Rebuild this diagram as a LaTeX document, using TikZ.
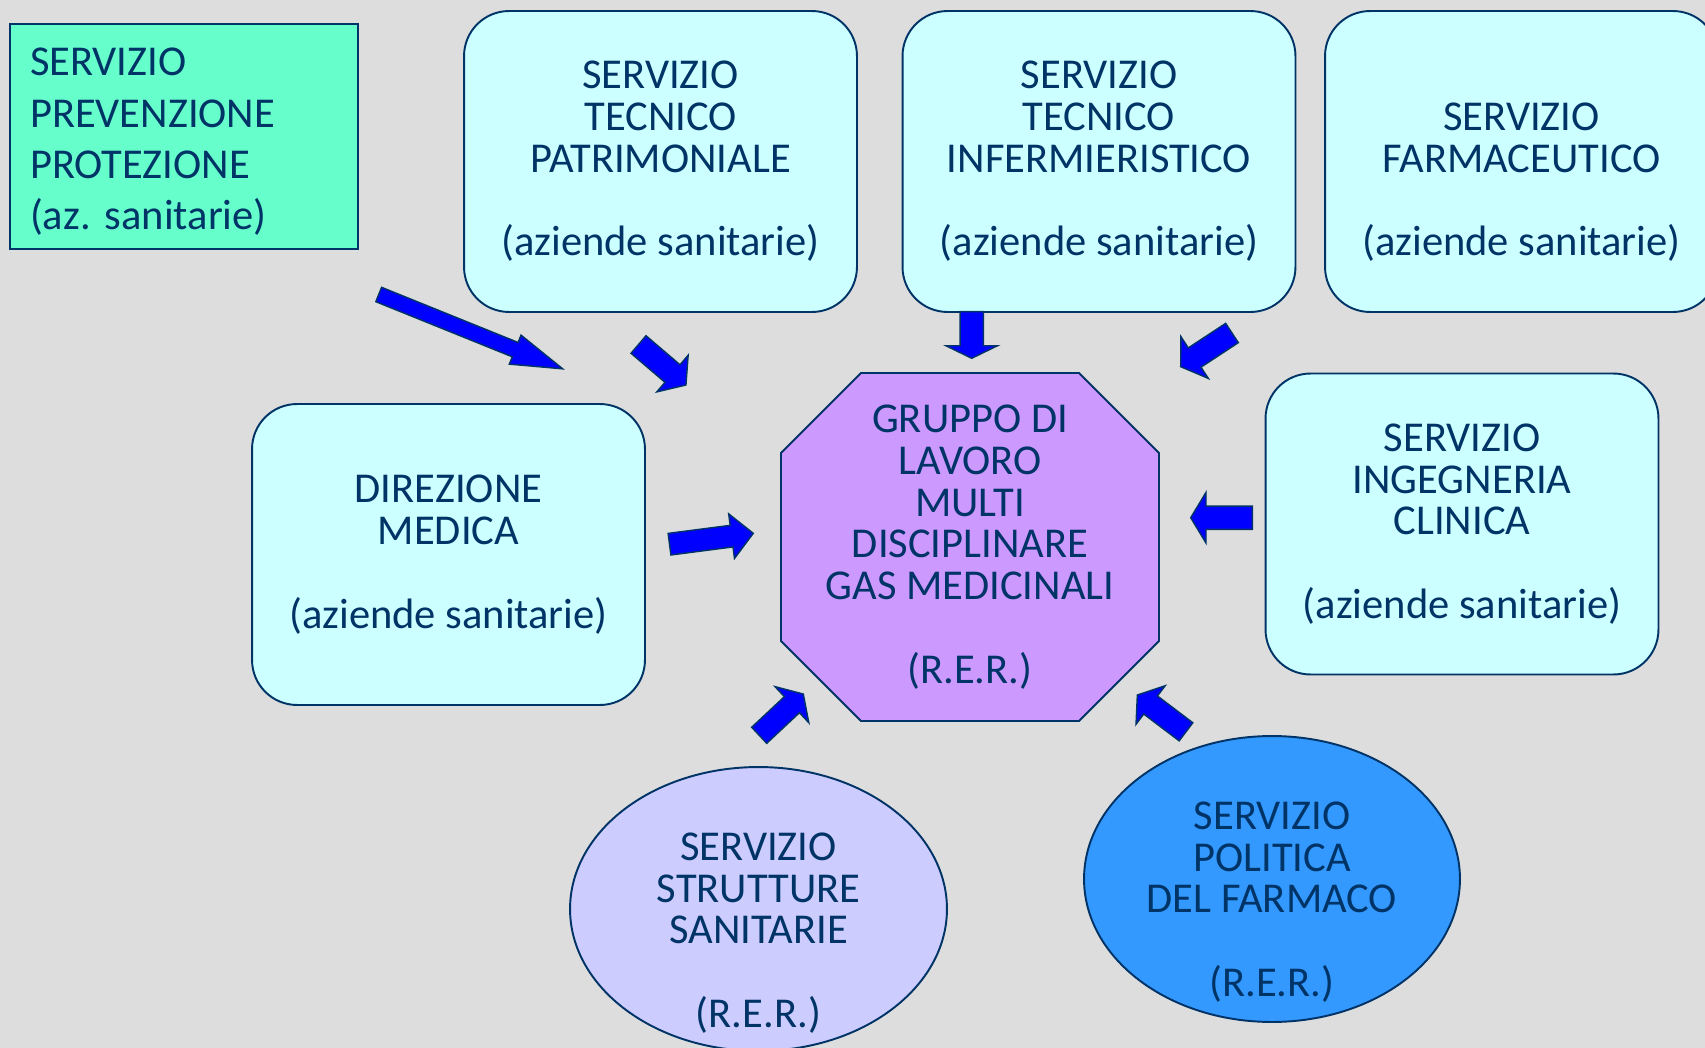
\documentclass[tikz,border=0pt]{standalone}
\usepackage{fontspec}
\setmainfont{Carlito}
\usetikzlibrary{calc,shapes.geometric}

\definecolor{navy}{RGB}{0,51,102}
\definecolor{bgc}{RGB}{221,221,221}
\definecolor{boxc}{RGB}{204,255,255}
\definecolor{sppc}{RGB}{102,255,204}
\definecolor{grpc}{RGB}{204,153,255}
\definecolor{sssc}{RGB}{204,204,255}
\definecolor{spfc}{RGB}{51,153,255}
\definecolor{arrc}{RGB}{0,0,255}

% tail, angle, length, shaft, head width, head length
\newcommand{\blockarrow}[6]{%
  \draw[blockarr,shift={#1},rotate=#2] (0,-#4/2)--(#3-#6,-#4/2)--(#3-#6,-#5/2)--(#3,0)
    --(#3-#6,#5/2)--(#3-#6,#4/2)--(0,#4/2)--cycle;
}

\begin{document}
\begin{tikzpicture}[x=0.02cm,y=-0.02cm,
  txt/.style={text=navy,font=\fontsize{24.2}{23.8}\selectfont,align=center},
  box/.style={txt,draw=navy,line width=1.1pt,fill=boxc,rounded corners=0.9cm,
    minimum width=7.86cm,minimum height=6.02cm},
  oval/.style={ellipse,draw=navy,line width=1.1pt,inner sep=0pt},
  blockarr/.style={draw=navy,line width=0.8pt,fill=arrc}]
\useasboundingbox (0,0) rectangle (1705,1048);
\fill[bgc] (0,0) rectangle (1705,1048);

% aziende sanitarie
\node[txt,draw=navy,line width=1.1pt,fill=sppc,minimum width=6.96cm,minimum height=4.5cm,
  text width=6.16cm,align=left,font=\fontsize{24.2}{29.2}\selectfont] (spp) at (184,136.5)
  {\rule{0pt}{21.8pt}SERVIZIO\\PREVENZIONE\\PROTEZIONE\\(az.\ sanitarie)};
\node[box] (stp) at (660.5,161.5) {SERVIZIO\\TECNICO\\PATRIMONIALE\\[23.8pt](aziende sanitarie)};
\node[box] (sti) at (1099,161.5) {SERVIZIO\\TECNICO\\INFERMIERISTICO\\[23.8pt](aziende sanitarie)};
\node[box] (sf) at (1521.5,161.5) {\vphantom{S}\\SERVIZIO\\FARMACEUTICO\\[23.8pt](aziende sanitarie)};
\node[box] (dm) at (448.5,554.5) {DIREZIONE\\MEDICA\\[23.8pt](aziende sanitarie)};
\node[box] (sic) at (1462,524) {SERVIZIO\\INGEGNERIA\\CLINICA\\[23.8pt](aziende sanitarie)};

% gruppo di lavoro
\coordinate (gc) at (970,547);
\filldraw[draw=navy,line width=1.1pt,fill=grpc] ($(gc)+(-109,-174)$) -- ($(gc)+(109,-174)$)
  -- ($(gc)+(189,-94)$) -- ($(gc)+(189,94)$) -- ($(gc)+(109,174)$) -- ($(gc)+(-109,174)$)
  -- ($(gc)+(-189,94)$) -- ($(gc)+(-189,-94)$) -- cycle;
\node[txt] (grp) at (gc) {GRUPPO DI\\LAVORO\\MULTI\\DISCIPLINARE\\GAS MEDICINALI\\[23.8pt](R.E.R.)};

% R.E.R.
\node[oval,fill=sssc,minimum width=7.54cm,minimum height=5.68cm] (sss) at (758.5,909) {};
\node[txt] (ssstxt) at ([yshift=-0.48cm]sss.center) {SERVIZIO\\STRUTTURE\\SANITARIE\\[23.8pt](R.E.R.)};
\node[oval,fill=spfc,minimum width=7.52cm,minimum height=5.72cm] (spf) at (1272,879) {};
\node[txt] (spftxt) at ([yshift=-0.46cm]spf.center) {SERVIZIO\\POLITICA\\DEL FARMACO\\[23.8pt](R.E.R.)};

% frecce
\blockarrow{(378.7,294.5)}{-22}{198.5}{15.5}{31.3}{51.3}
\blockarrow{(638.5,344.5)}{-40.5}{62.4}{23.1}{48.3}{17.7}
\blockarrow{(971.7,311.7)}{-90}{46.6}{23.3}{51.7}{12.6}
\blockarrow{(1232,333)}{213.3}{61.4}{23.1}{50}{16.7}
\blockarrow{(669.5,544.2)}{7.4}{84.5}{21.8}{45}{21.9}
\blockarrow{(1252.3,517.7)}{180}{61.6}{23.3}{50.7}{15.3}
\blockarrow{(759.2,735.3)}{43.1}{60.4}{22}{49.5}{15.6}
\blockarrow{(1186,731.8)}{142.9}{61}{22.7}{48.3}{16.6}
\end{tikzpicture}
\end{document}
